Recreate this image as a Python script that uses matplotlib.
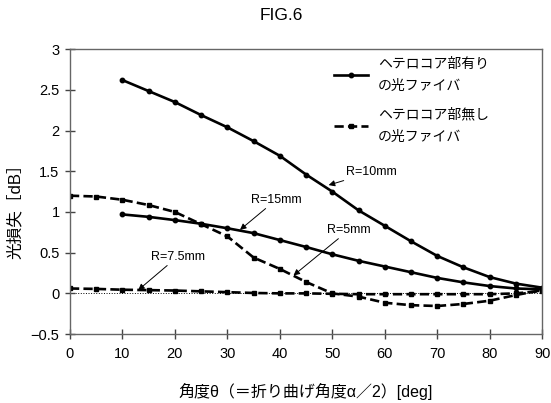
# FIG.6 : optical loss vs angle theta, with / without hetero-core part

import matplotlib
matplotlib.use("Agg")
from matplotlib import pyplot as plt

plt.rcParams['font.family'] = ['Liberation Sans', 'Noto Sans CJK JP', 'DejaVu Sans']

# angles
theta_with = [10, 15, 20, 25, 30, 35, 40, 45, 50, 55, 60, 65, 70, 75, 80, 85, 90]
theta_without = [0, 5, 10, 15, 20, 25, 30, 35, 40, 45, 50, 55, 60, 65, 70, 75, 80, 85, 90]

# loss [dB], with hetero-core part
loss_r10_with = [2.62, 2.485, 2.35, 2.19, 2.04, 1.87, 1.69, 1.46, 1.25, 1.02,
                 0.83, 0.64, 0.46, 0.32, 0.20, 0.12, 0.07]
loss_r15_with = [0.97, 0.94, 0.90, 0.855, 0.80, 0.74, 0.655, 0.57, 0.48, 0.40,
                 0.33, 0.26, 0.19, 0.135, 0.09, 0.06, 0.05]

# loss [dB], without hetero-core part
loss_r5_without = [1.20, 1.19, 1.15, 1.085, 1.00, 0.85, 0.70, 0.44, 0.30, 0.14,
                   0.0, -0.04, -0.115, -0.145, -0.155, -0.13, -0.09, -0.02, 0.04]
loss_r75_without = [0.06, 0.055, 0.045, 0.04, 0.035, 0.025, 0.015, 0.005, 0.0, 0.0,
                    -0.005, -0.01, -0.01, -0.01, -0.01, -0.01, -0.01, 0.0, 0.03]

yticks = [-0.5, 0, 0.5, 1, 1.5, 2, 2.5, 3]
ytick_labels = ['\u22120.5', '0', '0.5', '1', '1.5', '2', '2.5', '3']
xticks = [0, 10, 20, 30, 40, 50, 60, 70, 80, 90]

label_with = 'ヘテロコア部有り\nの光ファイバ'
label_without = 'ヘテロコア部無し\nの光ファイバ'

fig = plt.figure(figsize=(5.51, 4.03), dpi=100)
ax = fig.add_axes([0.127, 0.171, 0.857, 0.707])

ax.axhline(0, color='k', lw=0.7, ls=':', zorder=1)

solid = dict(color='k', lw=1.9, marker='o', ms=3.2)
dashed = dict(color='k', lw=1.9, ls=(0, (3.5, 1.6)), marker='s', ms=3.2)

ax.plot(theta_with, loss_r10_with, label=label_with, **solid)
ax.plot(theta_with, loss_r15_with, **solid)
ax.plot(theta_without, loss_r5_without, label=label_without, **dashed)
ax.plot(theta_without, loss_r75_without, **dashed)

arrow = dict(arrowstyle='-|>', color='k', lw=0.7, mutation_scale=9, shrinkA=0, shrinkB=0)
ax.annotate('R=10mm', xy=(49.3, 1.33), xytext=(52.7, 1.49), fontsize=9,
            va='center', ha='left', arrowprops=arrow)
ax.annotate('R=15mm', xy=(32.4, 0.78), xytext=(39.3, 1.15), fontsize=9,
            va='center', ha='center', arrowprops=arrow)
ax.annotate('R=5mm', xy=(42.6, 0.22), xytext=(53.2, 0.78), fontsize=9,
            va='center', ha='center', arrowprops=arrow)
ax.annotate('R=7.5mm', xy=(13.0, 0.04), xytext=(20.5, 0.45), fontsize=9,
            va='center', ha='center', arrowprops=arrow)

ax.set_xlim(0, 90)
ax.set_ylim(-0.5, 3)
ax.set_xticks(xticks)
ax.set_yticks(yticks)
ax.set_yticklabels(ytick_labels)
ax.tick_params(direction='inout', length=7, width=1, color='#444444',
               labelsize=10.5, pad=4)
ax.tick_params(axis='x', pad=6)

for s in ax.spines.values():
    s.set_color('#666666')
    s.set_linewidth(1.0)

ax.set_xlabel('角度θ（＝折り曲げ角度α／2）[deg]', fontsize=11.5)
ax.xaxis.set_label_coords(0.5, -0.17)
ax.set_ylabel('光損失［dB］', fontsize=12)
ax.yaxis.set_label_coords(-0.099, 0.446)

leg = ax.legend(loc='upper left', bbox_to_anchor=(0.532, 1.018), frameon=False,
                fontsize=10, handlelength=2.5, handletextpad=0.7, labelspacing=1.05)
for t in leg.get_texts():
    t.set_linespacing(1.75)

fig.text(0.51, 0.962, 'FIG.6', ha='center', va='center', fontsize=12.5)

fig.savefig('out.png', dpi=100)
